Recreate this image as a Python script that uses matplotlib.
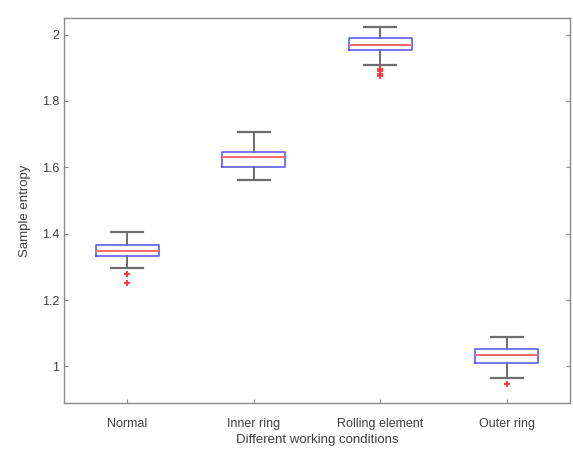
import matplotlib
matplotlib.use("Agg")
import matplotlib.pyplot as plt

plt.rcParams['font.family'] = ['Liberation Sans', 'DejaVu Sans']

categories = ["Normal", "Inner ring", "Rolling element", "Outer ring"]
whis_lo = [1.296, 1.562, 1.907, 0.966]
q1 = [1.332, 1.601, 1.954, 1.011]
median = [1.348, 1.631, 1.970, 1.036]
q3 = [1.366, 1.647, 1.990, 1.053]
whis_hi = [1.404, 1.707, 2.022, 1.089]
outliers = [[1.280, 1.252], [], [1.897, 1.889, 1.882, 1.876], [0.946]]

y_ticks = [1, 1.2, 1.4, 1.6, 1.8, 2]
y_tick_labels = ["1", "1.2", "1.4", "1.6", "1.8", "2"]

stats = []
for i, c in enumerate(categories):
    stats.append(dict(label=c, whislo=whis_lo[i], q1=q1[i], med=median[i],
                      q3=q3[i], whishi=whis_hi[i], fliers=outliers[i]))

fig = plt.figure(figsize=(5.73, 4.53), dpi=100)
ax = fig.add_axes([64 / 573, 1 - 403 / 453, 506 / 573, 385 / 453])

gray = "#6e6e6e"
ax.bxp(stats, positions=range(1, 5), widths=0.5, showfliers=True,
       boxprops=dict(color="#5050ff", linewidth=1.1),
       medianprops=dict(color="#ff6a6a", linewidth=1.4),
       whiskerprops=dict(color=gray, linewidth=1.4),
       capprops=dict(color=gray, linewidth=1.6),
       capwidths=0.25,
       flierprops=dict(marker="+", markeredgecolor="#ff3030", markeredgewidth=1.3,
                       markersize=5, linestyle="none"))

ax.set_xlim(0.5, 4.5)
ax.set_ylim(0.89, 2.05)
ax.set_yticks(y_ticks)
ax.set_yticklabels(y_tick_labels)
ax.set_xticks(range(1, 5))
ax.set_xticklabels(categories)

for s in ax.spines.values():
    s.set_color("#8a8a8a")
    s.set_linewidth(1.0)
ax.tick_params(direction="in", length=3, colors="#8a8a8a", labelcolor="#404040",
               labelsize=9, right=True, top=False)
ax.tick_params(axis="x", pad=11)
ax.set_xlabel("Different working conditions", fontsize=9.5, color="#404040", labelpad=3)
ax.set_ylabel("Sample entropy", fontsize=9.5, color="#404040", labelpad=8)

fig.savefig("out.png", dpi=100)
